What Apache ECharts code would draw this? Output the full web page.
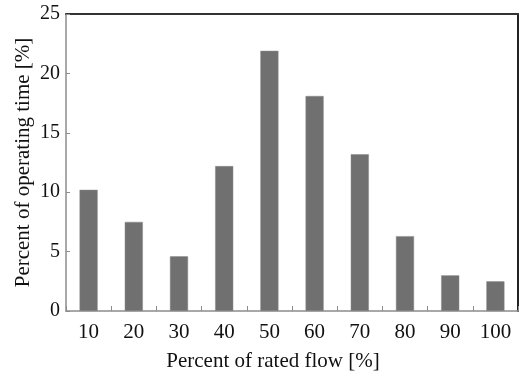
<!DOCTYPE html>
<html>
<head>
<meta charset="utf-8">
<script src="https://cdn.jsdelivr.net/npm/echarts@6/dist/echarts.min.js"></script>
<style>
html,body{margin:0;padding:0;background:#fff;}
#chart{width:521px;height:374px;}
</style>
</head>
<body>
<div id="chart"></div>
<script>
var categories = ['10','20','30','40','50','60','70','80','90','100'];
var operatingTime = [10.2, 7.5, 4.6, 12.2, 21.9, 18.1, 13.2, 6.3, 3.0, 2.5];
var yTicks = [0, 5, 10, 15, 20, 25];

var FONT = '"Liberation Serif", "Times New Roman", serif';
var chart = echarts.init(document.getElementById('chart'), null, {renderer: 'canvas'});
chart.setOption({
  animation: false,
  backgroundColor: '#fff',
  grid: {left: 66, right: 3, top: 14, bottom: 63, outerBoundsMode: 'none', containLabel: false},
  xAxis: [{
    type: 'category',
    data: categories,
    position: 'bottom',
    axisLine: {lineStyle: {color: '#8c8c8c', width: 1.5}},
    axisTick: {show: true, inside: true, length: 5, lineStyle: {color: '#8c8c8c'}},
    axisLabel: {fontFamily: FONT, fontSize: 21, color: '#111', margin: 11},
    name: 'Percent of rated flow [%]',
    nameLocation: 'middle',
    nameGap: 40,
    nameMoveOverlap: false,
    nameTextStyle: {fontFamily: FONT, fontSize: 21, color: '#111', padding: [0, 38, 0, 0]}
  }, {
    type: 'category',
    data: categories,
    position: 'top',
    axisLine: {show: true, onZero: false, lineStyle: {color: '#333', width: 2}},
    axisTick: {show: false},
    axisLabel: {show: false}
  }],
  yAxis: [{
    type: 'value',
    min: yTicks[0],
    max: yTicks[yTicks.length - 1],
    interval: 5,
    position: 'left',
    splitLine: {show: false},
    axisLine: {show: true, onZero: false, lineStyle: {color: '#8c8c8c', width: 1.5}},
    axisTick: {show: true, inside: true, length: 4, lineStyle: {color: '#8c8c8c'}},
    axisLabel: {fontFamily: FONT, fontSize: 20, color: '#111', margin: 6},
    name: 'Percent of operating time [%]',
    nameLocation: 'middle',
    nameGap: 32,
    nameMoveOverlap: false,
    nameTextStyle: {fontFamily: FONT, fontSize: 21, color: '#111'}
  }, {
    type: 'value',
    min: 0, max: 25, interval: 5,
    position: 'right',
    splitLine: {show: false},
    axisLine: {show: true, onZero: false, lineStyle: {color: '#222', width: 2}},
    axisTick: {show: false},
    axisLabel: {show: false}
  }],
  series: [{
    type: 'bar',
    data: operatingTime,
    xAxisIndex: 0,
    yAxisIndex: 0,
    barWidth: '40%',
    itemStyle: {color: '#707070', borderColor: '#8a8a8a', borderWidth: 0.5}
  }]
});
</script>
</body>
</html>
